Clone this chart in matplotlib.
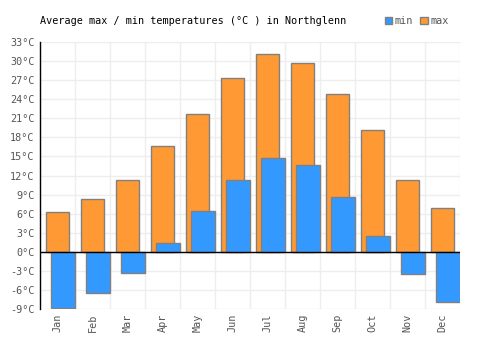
import matplotlib
matplotlib.use("Agg")
import matplotlib.pyplot as plt
import numpy as np

months = ["Jan", "Feb", "Mar", "Apr", "May", "Jun", "Jul", "Aug", "Sep", "Oct", "Nov", "Dec"]
t_max = [6.3, 8.3, 11.3, 16.7, 21.7, 27.4, 31.1, 29.7, 24.8, 19.1, 11.3, 6.9]
t_min = [-8.9, -6.5, -3.4, 1.4, 6.4, 11.3, 14.7, 13.6, 8.6, 2.5, -3.5, -7.9]
y_ticks = list(range(-9, 34, 3))

mono = "DejaVu Sans Mono"
fs = 7.3
fig = plt.figure(figsize=(5, 3.5), dpi=100)
ax = fig.add_axes([0.08, 0.117, 0.84, 0.763])

x = np.arange(len(months))
ax.bar(x, t_max, width=0.66, color="#ff9933", edgecolor="#808080", linewidth=1, zorder=3, label="max")
ax.bar(x + 0.16, t_min, width=0.68, color="#3399ff", edgecolor="#808080", linewidth=1, zorder=4, label="min")

ax.set_xlim(-0.5, 11.5)
ax.set_ylim(-9, 33)
ax.set_yticks(y_ticks)
ax.set_yticklabels([f"{v}°C" for v in y_ticks], fontsize=fs, color="#555555", family=mono)
ax.set_xticks(x)
ax.set_xticklabels(months, rotation=90, fontsize=fs, color="#555555", family=mono)
ax.set_xticks(np.arange(-0.5, 12, 1), minor=True)
ax.tick_params(axis="both", which="both", length=0)
ax.tick_params(axis="y", pad=4)
ax.grid(True, axis="y", color="#eeeeee", linewidth=1, zorder=0)
ax.grid(True, axis="x", which="minor", color="#eeeeee", linewidth=1, zorder=0)
ax.grid(False, axis="x", which="major")
for s in ["top", "right", "bottom"]:
    ax.spines[s].set_visible(False)
ax.spines["left"].set_color("black")
ax.spines["left"].set_linewidth(1)
ax.axhline(0, color="black", linewidth=1, zorder=5)

fig.text(0.08, 0.94, "Average max / min temperatures (°C ) in Northglenn", fontsize=fs, family=mono, va="center")

handles, labels = ax.get_legend_handles_labels()
leg = fig.legend(handles[::-1], labels[::-1], loc="center right", bbox_to_anchor=(0.908, 0.94), ncol=2,
                 frameon=False, prop={"family": mono, "size": fs}, handlelength=0.7, handleheight=0.7,
                 handletextpad=0.3, columnspacing=0.7, borderpad=0)
for t in leg.get_texts():
    t.set_color("#555555")

fig.savefig("out.png", dpi=100)
